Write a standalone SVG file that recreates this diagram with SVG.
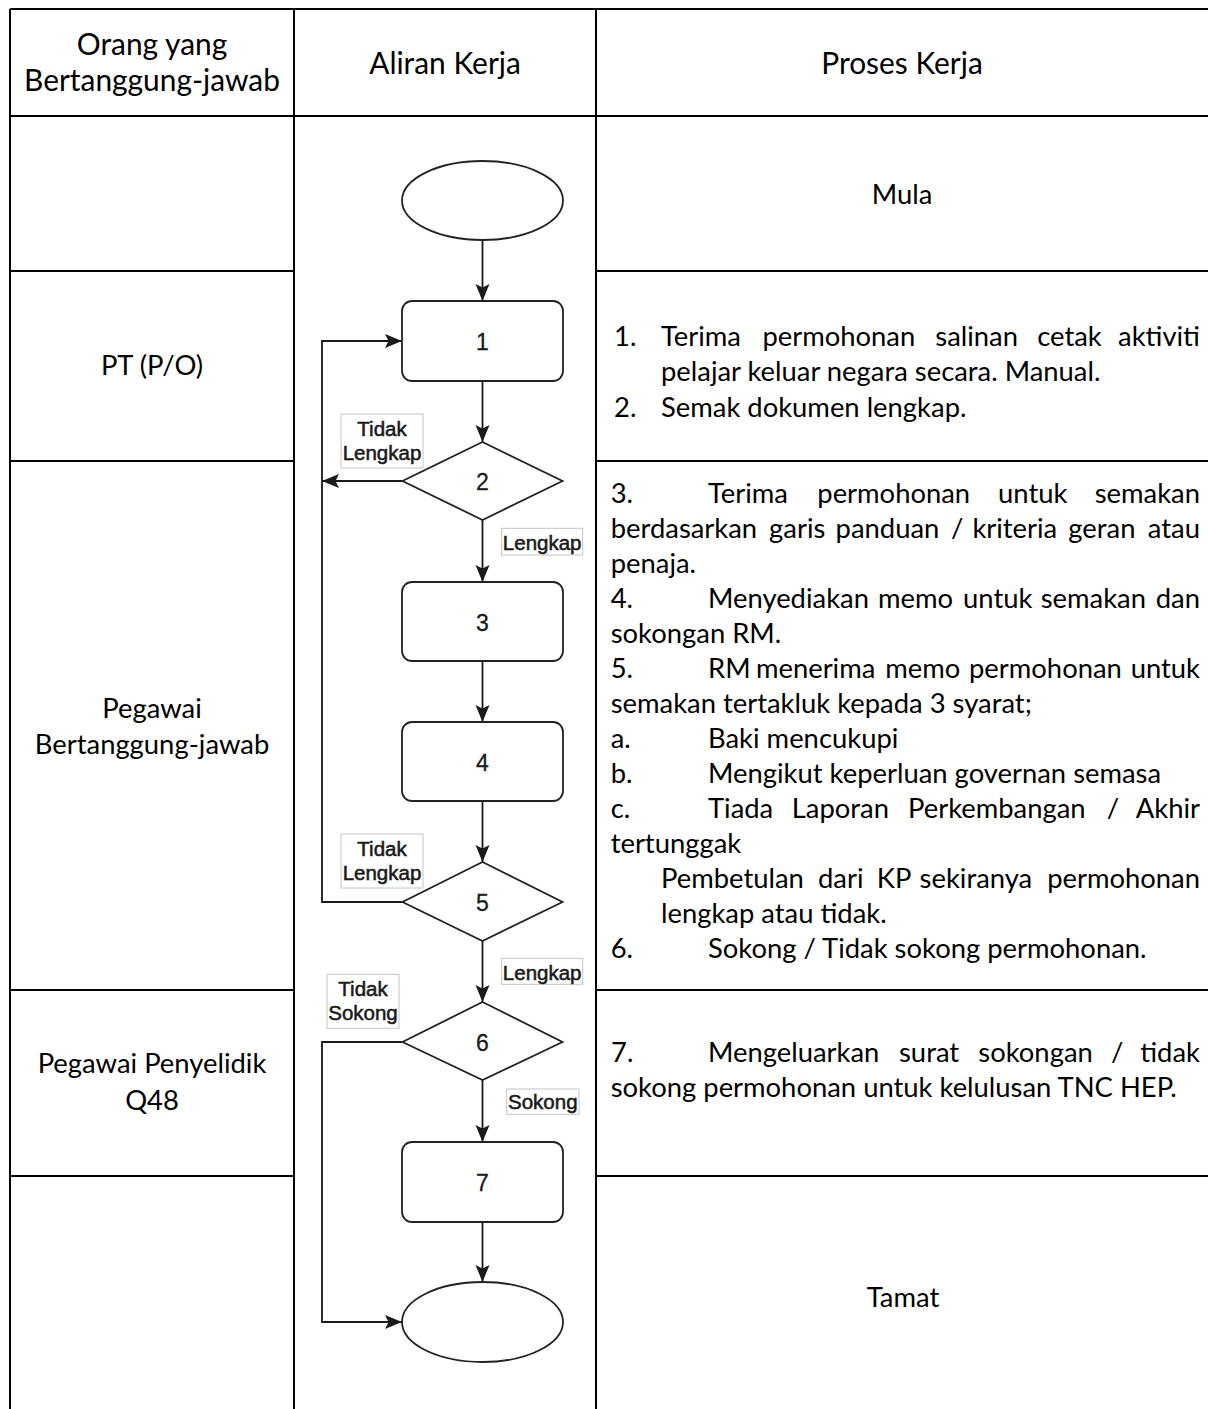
<svg xmlns="http://www.w3.org/2000/svg" width="1208" height="1409" viewBox="0 0 1208 1409">
<style>
.grid{stroke:#000;stroke-width:2;fill:none}
.t{font-family:Lato,'Open Sans',sans-serif;font-size:27.4px;fill:#000}
.h{font-family:Lato,'Open Sans',sans-serif;font-size:29.9px;fill:#000}
.c{text-anchor:middle}
.e{text-anchor:end}
.shape{fill:#fff;stroke:#222;stroke-width:1.8}
.num{font-family:'Liberation Sans',Arial,sans-serif;font-size:23px;fill:#1a1a1a;stroke:#1a1a1a;stroke-width:0.3;text-anchor:middle}
.edge{fill:none;stroke:#1a1a1a;stroke-width:1.8}
.lbox{fill:#fff;stroke:#c4c4c4;stroke-width:1}
.lab{font-family:'Liberation Sans',Arial,sans-serif;font-size:20.5px;fill:#1a1a1a;stroke:#1a1a1a;stroke-width:0.55;text-anchor:middle}
</style>
<defs>
<marker id="arr" markerUnits="userSpaceOnUse" markerWidth="17" markerHeight="15" viewBox="0 0 17 15" refX="17" refY="7.5" orient="auto">
<path d="M0,0.5 L17,7.5 L0,14.5 L3.5,7.5 Z" fill="#1a1a1a"/>
</marker>
</defs>
<rect width="1208" height="1409" fill="#fff"/>
<g id="table">
<path class="grid" d="M10,9H1208 M10,9V1409 M294,9V1409 M596,9V1409 M10,116H1208 M10,271H294 M596,271H1208 M10,461H294 M596,461H1208 M10,990H294 M596,990H1208 M10,1176H294 M596,1176H1208"/>
</g>
<g id="headers">
<text class="h c" x="152" y="55">Orang yang</text>
<text class="h c" x="152" y="91">Bertanggung-jawab</text>
<text class="h c" x="445" y="74">Aliran Kerja</text>
<text class="h c" x="902" y="74">Proses Kerja</text>
</g>
<g id="roles">
<text class="t c" x="152" y="375">PT (P/O)</text>
<text class="t c" x="152" y="718">Pegawai</text>
<text class="t c" x="152" y="754">Bertanggung-jawab</text>
<text class="t c" x="152" y="1073">Pegawai Penyelidik</text>
<text class="t c" x="152" y="1110">Q48</text>
</g>
<g id="process">
<text class="t c" x="902" y="204">Mula</text>
<text class="t" y="345.7"><tspan x="614">1.</tspan><tspan x="661">Terima</tspan><tspan x="762.4">permohonan</tspan><tspan x="935.3">salinan</tspan><tspan x="1037.2">cetak</tspan></text>
<text class="t e" x="1200" y="345.7">aktiviti</text>
<text class="t" x="661" y="381">pelajar keluar negara secara. Manual.</text>
<text class="t" y="416.5"><tspan x="614">2.</tspan><tspan x="661">Semak dokumen lengkap.</tspan></text>

<text class="t" y="503.3"><tspan x="610.7">3.</tspan><tspan x="708">Terima</tspan><tspan x="817.3">permohonan</tspan><tspan x="998.1">untuk</tspan></text>
<text class="t e" x="1200" y="503.3">semakan</text>
<text class="t" y="538.3"><tspan x="610.7">berdasarkan</tspan><tspan x="769.1">garis</tspan><tspan x="835.6">panduan</tspan><tspan x="950.9">/</tspan><tspan x="972.4">kriteria</tspan><tspan x="1068.3">geran</tspan></text>
<text class="t e" x="1200" y="538.3">atau</text>
<text class="t" x="610.7" y="573.3">penaja.</text>
<text class="t" y="608.3"><tspan x="610.7">4.</tspan><tspan x="708">Menyediakan</tspan><tspan x="878.1">memo</tspan><tspan x="963.1">untuk</tspan><tspan x="1040.7">semakan</tspan></text>
<text class="t e" x="1200" y="608.3">dan</text>
<text class="t" x="610.7" y="643.3">sokongan RM.</text>
<text class="t" y="678.3"><tspan x="610.7">5.</tspan><tspan x="708">RM</tspan><tspan x="755.9">menerima</tspan><tspan x="885.2">memo</tspan><tspan x="969">permohonan</tspan></text>
<text class="t e" x="1200" y="678.3">untuk</text>
<text class="t" x="610.7" y="713.3">semakan tertakluk kepada 3 syarat;</text>
<text class="t" y="748.3"><tspan x="610.7">a.</tspan><tspan x="708">Baki mencukupi</tspan></text>
<text class="t" y="783.3"><tspan x="610.7">b.</tspan><tspan x="708">Mengikut keperluan governan semasa</tspan></text>
<text class="t" y="818.3"><tspan x="610.7">c.</tspan><tspan x="708">Tiada</tspan><tspan x="791.8">Laporan</tspan><tspan x="908">Perkembangan</tspan><tspan x="1106.8">/</tspan></text>
<text class="t e" x="1200" y="818.3">Akhir</text>
<text class="t" x="610.7" y="853.3">tertunggak</text>
<text class="t" y="888.3"><tspan x="661">Pembetulan</tspan><tspan x="818">dari</tspan><tspan x="876.8">KP</tspan><tspan x="919.6">sekiranya</tspan></text>
<text class="t e" x="1200" y="888.3">permohonan</text>
<text class="t" x="661" y="923.3">lengkap atau tidak.</text>
<text class="t" y="958.3"><tspan x="610.7">6.</tspan><tspan x="708">Sokong / Tidak sokong permohonan.</tspan></text>

<text class="t" y="1061.7"><tspan x="611">7.</tspan><tspan x="708">Mengeluarkan</tspan><tspan x="899">surat</tspan><tspan x="978.3">sokongan</tspan><tspan x="1111">/</tspan></text>
<text class="t e" x="1200" y="1061.7">tidak</text>
<text class="t" x="610.7" y="1097">sokong permohonan untuk kelulusan TNC HEP.</text>

<text class="t c" x="903" y="1306.7">Tamat</text>
</g>
<g id="connectors">
<path class="edge" marker-end="url(#arr)" d="M482.5,240V301"/>
<path class="edge" marker-end="url(#arr)" d="M482.5,381V442"/>
<path class="edge" marker-end="url(#arr)" d="M482.5,520V582"/>
<path class="edge" marker-end="url(#arr)" d="M482.5,661V722"/>
<path class="edge" marker-end="url(#arr)" d="M482.5,801V862"/>
<path class="edge" marker-end="url(#arr)" d="M482.5,941V1002"/>
<path class="edge" marker-end="url(#arr)" d="M482.5,1080V1142"/>
<path class="edge" marker-end="url(#arr)" d="M482.5,1222V1282"/>
<path class="edge" marker-end="url(#arr)" d="M402.5,481H322"/>
<path class="edge" marker-end="url(#arr)" d="M402.5,902H322V341H402"/>
<path class="edge" marker-end="url(#arr)" d="M402.5,1042H322V1322H402"/>
</g>
<g id="start"><ellipse class="shape" cx="482.5" cy="200.5" rx="80.5" ry="39.5"/></g>
<g id="step1"><rect class="shape" x="402" y="301" width="161" height="80" rx="10"/><text class="num" x="482.5" y="350">1</text></g>
<g id="decision2"><polygon class="shape" points="482.5,442 562.5,481 482.5,520 402.5,481"/><text class="num" x="482.5" y="490">2</text></g>
<g id="step3"><rect class="shape" x="402" y="582" width="161" height="79" rx="10"/><text class="num" x="482.5" y="630.5">3</text></g>
<g id="step4"><rect class="shape" x="402" y="722" width="161" height="79" rx="10"/><text class="num" x="482.5" y="770.5">4</text></g>
<g id="decision5"><polygon class="shape" points="482.5,862 562.5,902 482.5,941 402.5,902"/><text class="num" x="482.5" y="911">5</text></g>
<g id="decision6"><polygon class="shape" points="482.5,1002 562.5,1042 482.5,1080 402.5,1042"/><text class="num" x="482.5" y="1050.5">6</text></g>
<g id="step7"><rect class="shape" x="402" y="1142" width="161" height="80" rx="10"/><text class="num" x="482.5" y="1191">7</text></g>
<g id="end"><ellipse class="shape" cx="482.5" cy="1322" rx="80.5" ry="40"/></g>
<g id="labels">
<rect class="lbox" x="341" y="414" width="82" height="54"/>
<text class="lab" x="382" y="436">Tidak</text>
<text class="lab" x="382" y="460">Lengkap</text>
<rect class="lbox" x="341" y="834" width="82" height="54"/>
<text class="lab" x="382" y="856">Tidak</text>
<text class="lab" x="382" y="880">Lengkap</text>
<rect class="lbox" x="501.7" y="528.3" width="81" height="26.7"/>
<text class="lab" x="542.2" y="550">Lengkap</text>
<rect class="lbox" x="501.7" y="958.3" width="81" height="26"/>
<text class="lab" x="542.2" y="979.5">Lengkap</text>
<rect class="lbox" x="327" y="974.3" width="72" height="54"/>
<text class="lab" x="363" y="996">Tidak</text>
<text class="lab" x="363" y="1020">Sokong</text>
<rect class="lbox" x="506.7" y="1089" width="72.3" height="25.3"/>
<text class="lab" x="542.8" y="1109">Sokong</text>
</g>
</svg>
